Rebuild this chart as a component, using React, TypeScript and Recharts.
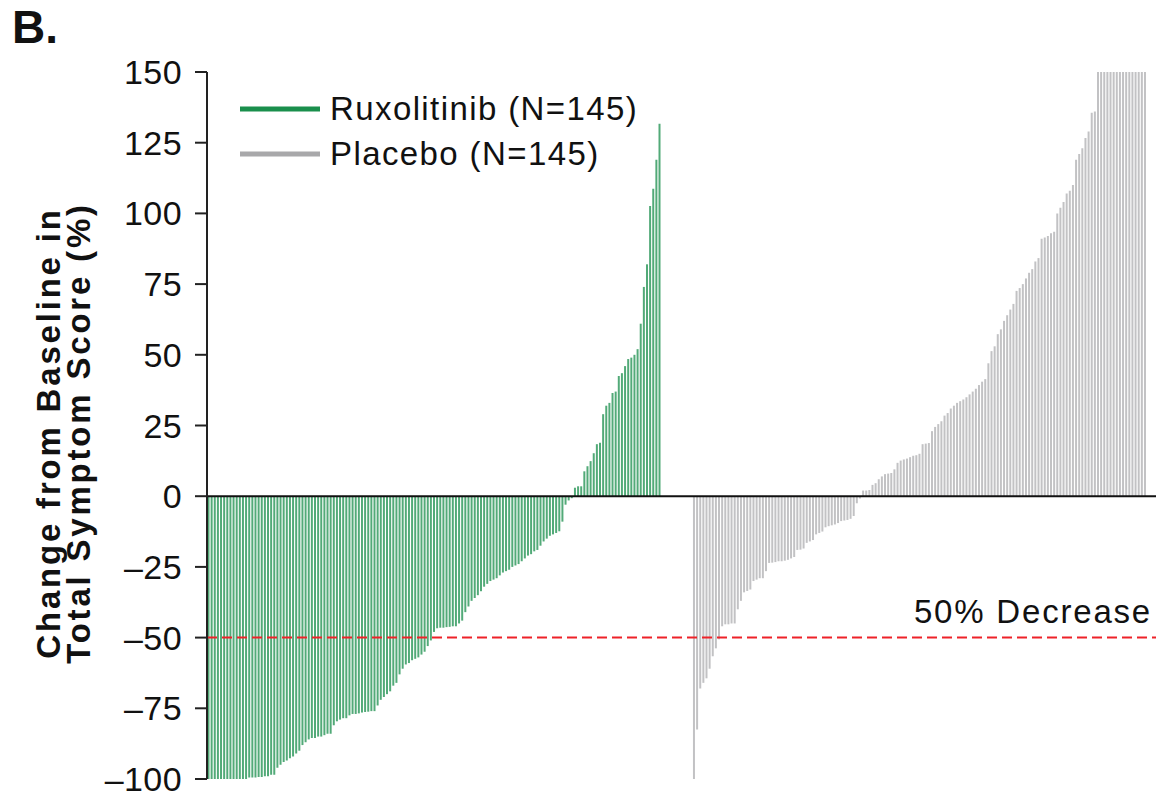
import React from 'react';
import { Bar, BarChart, Cell, Label, Legend, ReferenceLine, XAxis, YAxis } from 'recharts';

// change from baseline in TSS (%), one value per patient, sorted
const ruxValues = [
  -100, -100, -100, -100, -100, -100, -100, -100, -100, -100, -100, -100, -100,
  -99.5, -99.5, -99.5, -99.3, -99.3, -99,
  -99, -98.5, -98.5, -96, -95, -94, -93.5, -92.7, -92, -91, -90, -88, -87, -86, -85.5, -85.5, -85, -85, -84.5, -84, -84,
  -81, -79.6, -79, -78.5, -78.5, -77.5, -77, -77, -76.8, -76.5, -76.3, -76.2, -76, -76, -74, -72, -71, -70, -69, -67,
  -66, -63, -61, -59.5, -59, -58, -57.5, -57, -56, -55, -53, -51, -48, -46.7, -46.5, -46.5, -46.3, -46.2, -46, -46,
  -45, -44, -41, -39, -37, -36, -35, -33.6, -32, -31, -30, -29.5, -29, -28, -27, -26.5, -26, -25, -24.5, -24,
  -23, -22, -21, -20.5, -19.5, -19, -17.5, -16, -15, -14, -13.5, -13, -12.4, -9, -3, -1.5, -0.7,
  3, 3.5, 3.5, 8.8, 10.6, 12.4, 15.2, 18.4, 18.9, 29, 32, 33, 36.5, 37, 42.5, 43.5, 46, 48.5, 49, 50, 52, 61, 74, 82,
  102.6, 108.7, 119, 131.7,
];

const placeboValues = [
  -100, -82.5, -68, -66, -64.4, -61, -56.6, -53.8, -50.6, -46,
  -45.3, -45.3, -45, -45, -40, -37, -34, -33.5, -33, -30,
  -29.5, -29, -29, -26.5, -23.6, -23.5, -23.3, -23, -23, -22.8,
  -22.5, -22, -21.5, -19, -18.9, -18.5, -16.5, -16, -15.5, -13.5,
  -13, -12.5, -11, -10.6, -10.3, -10, -9.5, -8.8, -8.6, -8.4,
  -8, -7, -2.5, -0.8, 2, 2, 2.2, 4, 4.6, 6,
  7, 7.8, 8, 8.2, 9.5, 11.8, 12.6, 13, 13.3, 13.8,
  14.3, 14.5, 15, 18.4, 18.6, 18.8, 23, 24.5, 25.5, 26.5,
  28.5, 29.4, 31, 32, 33, 33.6, 34.2, 35, 36, 37,
  38, 39.3, 40.5, 41.4, 47, 51.3, 53, 57.3, 59, 62,
  64, 66, 68, 72.6, 73.6, 75, 77, 79, 80.3, 83,
  84.2, 91, 91.5, 92, 93, 93.5, 100, 102, 104, 107,
  108, 110, 119, 121, 123, 126.7, 129, 135.6, 136, 152,
  158, 163, 170, 176, 185, 194, 205, 218, 230, 247,
  262, 280, 305, 340, 410,
];

const seriesNames = ['Ruxolitinib (N=145)', 'Placebo (N=145)'];
const yTicks = [-100, -75, -50, -25, 0, 25, 50, 75, 100, 125, 150];

const GAP_SLOTS = 10;
const TAIL_SLOTS = 3;

const barColors = { rux: '#52aa78', pla: '#c2c2c4' };
const legendColors = ['#1a8f4c', '#a8a8aa'];
const FONT = '"Liberation Sans", Arial, Helvetica, sans-serif';

type Row = { id: string; value: number | null; arm: 'rux' | 'pla' | null };

const rows: Row[] = [
  ...ruxValues.map((v, i) => ({ id: `R${i + 1}`, value: v, arm: 'rux' as const })),
  ...Array.from({ length: GAP_SLOTS }, (_, i) => ({ id: `gap${i}`, value: null, arm: null })),
  ...placeboValues.map((v, i) => ({ id: `P${i + 1}`, value: v, arm: 'pla' as const })),
  ...Array.from({ length: TAIL_SLOTS }, (_, i) => ({ id: `tail${i}`, value: null, arm: null })),
];

const fmtTick = (v: number) => (v < 0 ? `\u2013${Math.abs(v)}` : `${v}`);

const LegendBox = () => (
  <div style={{ fontFamily: FONT }}>
    {seriesNames.map((name, i) => (
      <div key={name} style={{ display: 'flex', alignItems: 'center', height: 45 }}>
        <svg width={80} height={6} style={{ display: 'block' }}>
          <line x1={0} x2={80} y1={3} y2={3} stroke={legendColors[i]} strokeWidth={5} />
        </svg>
        <span style={{ marginLeft: 10, fontSize: 33, lineHeight: 1, letterSpacing: 1.4, color: '#111' }}>
          {name}
        </span>
      </div>
    ))}
  </div>
);

const YTitle = () => (
  <g fontFamily={FONT} fontWeight={700} fontSize={33} fill="#111" letterSpacing={2.8}>
    <text x={60} y={433} textAnchor="middle" transform="rotate(-90 60 433)">
      Change from Baseline in
    </text>
    <text x={90} y={433} textAnchor="middle" transform="rotate(-90 90 433)">
      Total Symptom Score (%)
    </text>
  </g>
);

const DecreaseLabel = (props: any) => {
  const vb = props.viewBox || {};
  return (
    <text
      x={vb.x + vb.width - 4}
      y={vb.y - 15}
      textAnchor="end"
      fontFamily={FONT}
      fontSize={33}
      letterSpacing={1.8}
      fill="#111"
    >
      50% Decrease
    </text>
  );
};

export default function App() {
  return (
    <div style={{ position: 'absolute', left: 0, top: 0, width: 1168, height: 798, background: '#fff' }}>
      <div
        style={{
          position: 'absolute',
          left: 12,
          top: 4,
          fontFamily: FONT,
          fontWeight: 700,
          fontSize: 46,
          lineHeight: '46px',
          color: '#111',
          zIndex: 2,
        }}
      >
        B.
      </div>
      <BarChart
        width={1168}
        height={798}
        data={rows}
        margin={{ top: 72, right: 12, bottom: 19, left: 117 }}
        barCategoryGap="16%"
      >
        <XAxis dataKey="id" hide />
        <YAxis
          width={90}
          domain={[-100, 150]}
          ticks={yTicks}
          allowDataOverflow
          interval={0}
          tickFormatter={fmtTick}
          tickSize={12}
          tickMargin={13}
          axisLine={{ stroke: '#222', strokeWidth: 2 }}
          tickLine={{ stroke: '#222', strokeWidth: 2 }}
          tick={{ fill: '#111', fontSize: 34, letterSpacing: 0.4, fontFamily: FONT }}
        >
          <Label content={() => <YTitle />} />
        </YAxis>
        <Legend
          layout="vertical"
          align="center"
          verticalAlign="middle"
          wrapperStyle={{ left: 240, top: 86, width: 'auto' }}
          content={() => <LegendBox />}
        />
        <Bar dataKey="value" isAnimationActive={false}>
          {rows.map((r) => (
            <Cell key={r.id} fill={r.arm ? barColors[r.arm] : 'none'} />
          ))}
        </Bar>
        <ReferenceLine y={0} stroke="#111" strokeWidth={2} />
        <ReferenceLine
          y={-50}
          stroke="#ee2229"
          strokeWidth={2}
          strokeDasharray="10 5"
          label={<DecreaseLabel />}
        />
      </BarChart>
    </div>
  );
}
